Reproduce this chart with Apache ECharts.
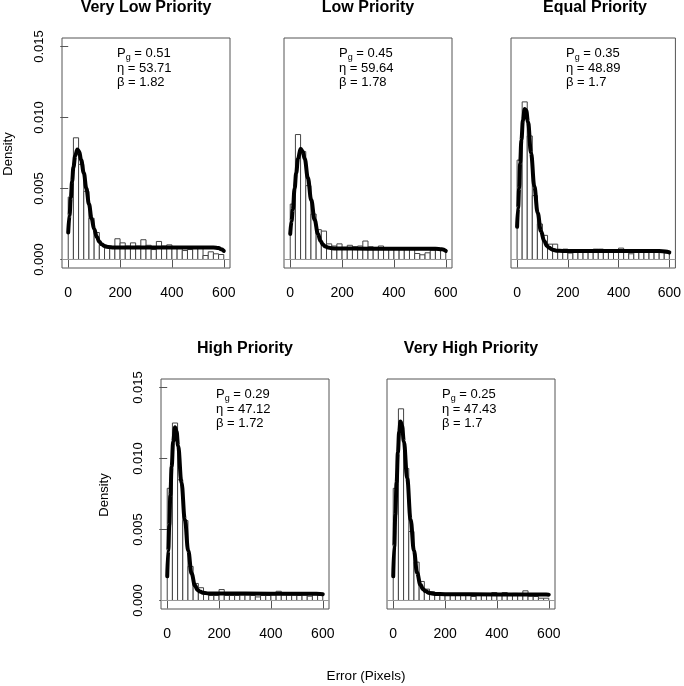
<!DOCTYPE html>
<html><head><meta charset="utf-8">
<script src="https://cdn.jsdelivr.net/npm/echarts@6/dist/echarts.min.js"></script>
<style>html,body{margin:0;padding:0;background:#fff}#c{width:684px;height:686px}</style>
</head><body><div id="c"></div>
<script>
// ---------- data ----------
const panelTitles = ['Very Low Priority', 'Low Priority', 'Equal Priority', 'High Priority', 'Very High Priority'];
const pgValues = ['0.51', '0.45', '0.35', '0.29', '0.25'];
const etaValues = ['53.71', '59.64', '48.89', '47.12', '47.43'];
const betaValues = ['1.82', '1.78', '1.7', '1.72', '1.7'];
const xTickValues = [0, 200, 400, 600];
const yTickValues = [0, 0.005, 0.010, 0.015];
const binStarts = [0,20,40,60,80,100,120,140,160,180,200,220,240,260,280,300,320,340,360,380,400,420,440,460,480,500,520,540,560,580];
const binEnds   = [20,40,60,80,100,120,140,160,180,200,220,240,260,280,300,320,340,360,380,400,420,440,460,480,500,520,540,560,580,600];

const barsVeryLow = [0.0044,0.00857,0.0067,0.0048,0.0029,0.0019,0.0010,0.0008,0.0008,0.00146,0.00117,0.00094,0.00117,0.00094,0.00139,0.0010,0.0007,0.00127,0.00094,0.00103,0.0008,0.00077,0.00063,0.0007,0.0008,0.0008,0.00028,0.00054,0.0004,0.00035];
const barsLow = [0.0039,0.0088,0.0076,0.0052,0.0032,0.0021,0.0020,0.0011,0.00095,0.0011,0.00075,0.0010,0.0009,0.00095,0.0013,0.0009,0.00085,0.00095,0.0008,0.00077,0.0008,0.00077,0.00075,0.00077,0.00042,0.00033,0.00047,0.00066,0.00075,0.0007];
const barsEqual = [0.0070,0.0111,0.0087,0.0045,0.0025,0.0017,0.00108,0.00108,0.00055,0.00073,0.00045,0.0005,0.0005,0.0005,0.00055,0.00073,0.00073,0.0006,0.0005,0.0005,0.0008,0.0005,0.0004,0.0005,0.0005,0.0005,0.0005,0.0005,0.00055,0.00045];
const barsHigh = [0.0079,0.0125,0.0085,0.00563,0.0024,0.0012,0.0009,0.00042,0.00035,0.00035,0.00077,0.00035,0.00035,0.00035,0.00038,0.00038,0.00035,0.00025,0.00035,0.00035,0.0004,0.00065,0.0004,0.00038,0.00038,0.00035,0.00038,0.0003,0.0004,0.00038];
const barsVeryHigh = [0.0079,0.0135,0.0093,0.00486,0.0027,0.00134,0.0008,0.00062,0.0005,0.00045,0.00045,0.00042,0.00042,0.00042,0.00035,0.00028,0.00042,0.00042,0.00042,0.00056,0.00045,0.00056,0.00045,0.0005,0.00045,0.00068,0.0003,0.00028,0.00016,0.00016];

const curveXVeryLow = [0,5,10,15,20,27,35,42,50,60,70,80,90,100,110,120,130,140,155,175,200,300,400,500,560,580,590,600];
const curveYVeryLow = [0.0019,0.0031,0.00435,0.0055,0.0065,0.0073,0.00775,0.0076,0.0070,0.0061,0.0050,0.0039,0.0029,0.00215,0.0016,0.00125,0.00105,0.00095,0.00088,0.00085,0.00085,0.00085,0.00084,0.00084,0.00084,0.0008,0.00072,0.0006];
const curveXLow = [0,5,10,17,23,30,40,48,56,68,81,94,107,117,126,135,145,160,180,300,450,560,585,600];
const curveYLow = [0.0018,0.0027,0.0035,0.0050,0.0061,0.0071,0.0078,0.0076,0.0071,0.00575,0.0042,0.0028,0.0018,0.0013,0.00105,0.00092,0.00084,0.00079,0.00077,0.00076,0.00076,0.00076,0.00072,0.0006];
const curveXEqual = [0,4,8,12,17,23,30,36,43,55,68,81,94,107,117,126,140,155,180,300,450,560,585,600];
const curveYEqual = [0.0023,0.0036,0.0050,0.0068,0.0084,0.0098,0.0106,0.0105,0.0097,0.0075,0.00515,0.0033,0.0020,0.0013,0.00098,0.00082,0.00069,0.00062,0.0006,0.00059,0.00059,0.00059,0.00057,0.0005];
const curveXHigh = [0,4,8,12,17,23,30,36,42,55,68,81,94,107,117,126,140,160,200,400,560,590,600];
const curveYHigh = [0.0017,0.0035,0.0053,0.0074,0.0094,0.0112,0.0122,0.0119,0.0109,0.0083,0.0057,0.0035,0.0019,0.00105,0.00075,0.00063,0.00054,0.0005,0.00049,0.00048,0.00048,0.00046,0.00044];
const curveXVeryHigh = [0,4,8,13,18,23,28,34,41,54,67,80,92,105,115,124,140,160,200,400,560,590,600];
const curveYVeryHigh = [0.0017,0.0038,0.0060,0.0083,0.0104,0.0119,0.0126,0.0123,0.0112,0.0086,0.0057,0.0035,0.00195,0.0011,0.0008,0.00066,0.00052,0.00046,0.00044,0.00043,0.00043,0.00042,0.00041];

const panelBars = [barsVeryLow, barsLow, barsEqual, barsHigh, barsVeryHigh];
const panelCurveX = [curveXVeryLow, curveXLow, curveXEqual, curveXHigh, curveXVeryHigh];
const panelCurveY = [curveYVeryLow, curveYLow, curveYEqual, curveYHigh, curveYVeryHigh];

// ---------- layout ----------
const FONT = '"Liberation Sans", Arial, Helvetica, sans-serif';
const boxW = 168, boxH = 230;
const panelPos = [
  {left: 62, top: 38, yAxis: true},
  {left: 284, top: 38, yAxis: false},
  {left: 511, top: 38, yAxis: false},
  {left: 161, top: 379, yAxis: true},
  {left: 387, top: 379, yAxis: false}
];
const lineColor = '#555';

const grids = [], xAxes = [], yAxes = [], series = [], graphics = [];
panelPos.forEach((p, i) => {
  grids.push({left: p.left, top: p.top, width: boxW, height: boxH, show: true,
    borderColor: lineColor, borderWidth: 1, backgroundColor: 'transparent'});
  xAxes.push({type: 'value', gridIndex: i, min: -24, max: 624,
    axisLine: {show: false},
    splitLine: {show: false},
    axisTick: {show: true, customValues: xTickValues, length: 8, lineStyle: {color: lineColor, width: 1}},
    axisLabel: {show: true, customValues: xTickValues, margin: 18, fontSize: 14, color: '#000', fontFamily: FONT}
  });
  yAxes.push({type: 'value', gridIndex: i, min: -0.0006, max: 0.0156, show: p.yAxis,
    axisLine: {show: false},
    splitLine: {show: false},
    axisTick: {show: true, customValues: yTickValues, length: 8, lineStyle: {color: lineColor, width: 1}},
    axisLabel: {show: true, customValues: yTickValues, rotate: 90, margin: 16, fontSize: 13, color: '#000', fontFamily: FONT,
      formatter: v => v.toFixed(3)}
  });
  const bars = panelBars[i].map((h, k) => [binStarts[k], binEnds[k], h]);
  series.push({
    type: 'custom', xAxisIndex: i, yAxisIndex: i, data: bars, silent: true,
    encode: {x: [0, 1], y: 2},
    renderItem: (params, api) => {
      const p0 = api.coord([api.value(0), 0]);
      const p1 = api.coord([api.value(1), api.value(2)]);
      return {type: 'rect', shape: {x: p0[0], y: p1[1], width: p1[0] - p0[0], height: p0[1] - p1[1]},
        style: {fill: '#fff', stroke: '#444', lineWidth: 1}};
    },
    z: 2
  });
  series.push({
    type: 'line', xAxisIndex: i, yAxisIndex: i, silent: true,
    data: panelCurveX[i].map((x, k) => [x, panelCurveY[i][k]]),
    showSymbol: false, smooth: 0.4, smoothMonotone: 'x',
    lineStyle: {color: '#000', width: 4, cap: 'round', join: 'round'},
    markLine: {silent: true, symbol: 'none', label: {show: false},
      lineStyle: {color: '#999', type: 'solid', width: 1}, data: [{yAxis: 0}]},
    z: 3
  });
  // title
  graphics.push({type: 'text', x: p.left + boxW / 2, y: p.top - 30, z: 10,
    style: {text: panelTitles[i], font: 'bold 16px ' + FONT, fill: '#000', align: 'center', verticalAlign: 'middle'}});
  // annotations
  const ax = p.left + 55;
  graphics.push({type: 'text', x: ax, y: p.top + 15, z: 10,
    style: {text: '{a|P}{s|g}{a| = ' + pgValues[i] + '}', align: 'left', verticalAlign: 'middle',
      rich: {a: {fontSize: 13, fontFamily: FONT, fill: '#000', lineHeight: 19, verticalAlign: 'middle'},
             s: {fontSize: 9, fontFamily: FONT, fill: '#000', lineHeight: 10, verticalAlign: 'bottom'}}}});
  graphics.push({type: 'text', x: ax, y: p.top + 30, z: 10,
    style: {text: 'η = ' + etaValues[i], font: '13px ' + FONT, fill: '#000', align: 'left', verticalAlign: 'middle'}});
  graphics.push({type: 'text', x: ax, y: p.top + 44, z: 10,
    style: {text: 'β = ' + betaValues[i], font: '13px ' + FONT, fill: '#000', align: 'left', verticalAlign: 'middle'}});
  if (p.yAxis) {
    graphics.push({type: 'text', x: p.left - (i === 0 ? 54 : 57), y: p.top + 116, rotation: Math.PI / 2, z: 10,
      style: {text: 'Density', font: '13px ' + FONT, fill: '#000', align: 'center', verticalAlign: 'middle'}});
  }
});
graphics.push({type: 'text', x: 366, y: 676, z: 10,
  style: {text: 'Error (Pixels)', font: '13.5px ' + FONT, fill: '#000', align: 'center', verticalAlign: 'middle'}});

const chart = echarts.init(document.getElementById('c'), null, {renderer: 'canvas'});
chart.setOption({
  animation: false,
  backgroundColor: '#fff',
  grid: grids, xAxis: xAxes, yAxis: yAxes, series: series, graphic: graphics
});
</script></body></html>
